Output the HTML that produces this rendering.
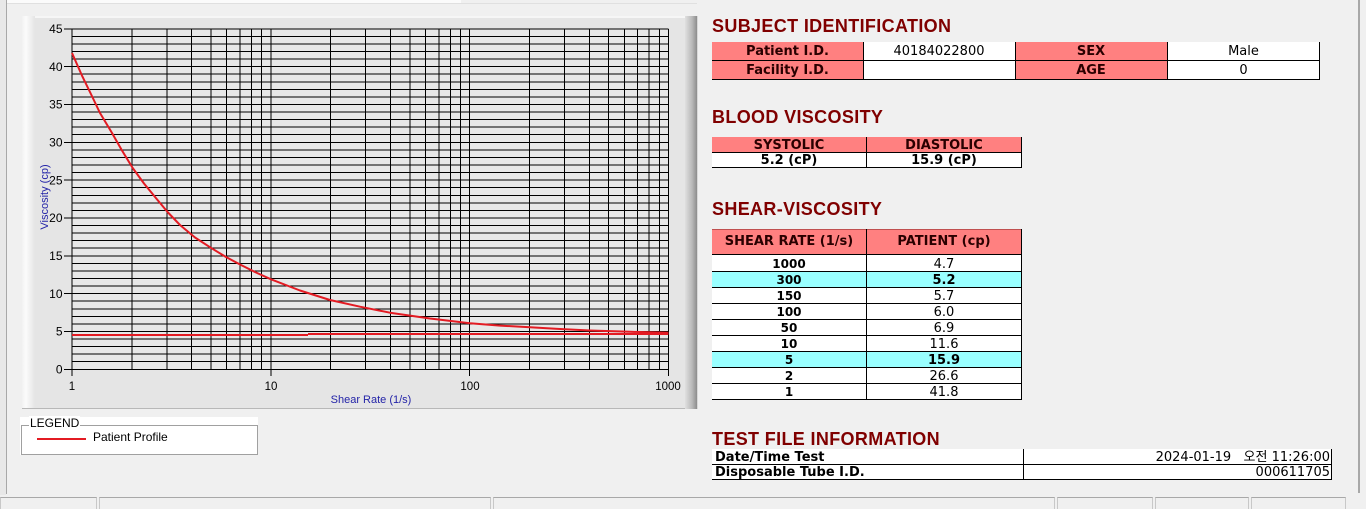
<!DOCTYPE html>
<html>
<head>
<meta charset="utf-8">
<style>
html,body{margin:0;padding:0;}
body{width:1366px;height:508px;background:#f0f0f0;position:relative;overflow:hidden;font-family:"Liberation Sans",Arial,sans-serif;}
.abs{position:absolute;}
.title{position:absolute;left:712px;font-family:"Liberation Sans",Arial,sans-serif;font-weight:bold;font-size:18px;line-height:18px;color:#800000;white-space:nowrap;letter-spacing:0.35px;}
.c{position:absolute;box-sizing:border-box;text-align:center;font-family:"DejaVu Sans","Liberation Sans",sans-serif;white-space:nowrap;overflow:hidden;}
.pk{background:#ff8080;color:#2a0000;font-weight:bold;}
.wh{background:#ffffff;color:#000;}
.cy{background:#99ffff;color:#000;}
.hl{position:absolute;height:1px;background:#000;}
.vl{position:absolute;width:1px;background:#000;}
.sb{position:absolute;top:497px;height:12px;box-sizing:border-box;border-top:1px solid #a8a8a8;border-left:1px solid #c8c8c8;border-right:1px solid #c8c8c8;background:#f0f0f0;}
</style>
</head>
<body>

<!-- window frame bits -->
<div class="abs" style="left:0;top:0;width:6px;height:495px;background:#e8e8e8;"></div>
<div class="abs" style="left:6px;top:0;width:1px;height:494px;background:#a8a8a8;"></div>
<div class="abs" style="left:7px;top:0;width:454px;height:3px;background:#fbfbfb;"></div>
<div class="abs" style="left:7px;top:3px;width:690px;height:1px;background:#e0e0e0;"></div>
<div class="abs" style="left:1358px;top:0;width:2px;height:493px;background:#a8a8a8;"></div>

<!-- chart panel -->
<div class="abs" style="left:22px;top:16px;width:676px;height:392px;background:#e5e5e5;border-bottom:1px solid #b8b8b8;"></div>
<div class="abs" style="left:22px;top:16px;width:676px;height:2px;background:#f6f6f6;"></div>
<div class="abs" style="left:22px;top:16px;width:13px;height:392px;background:linear-gradient(to right,#f2f2f2,#fbfbfb 30%,#e5e5e5);"></div>
<div class="abs" style="left:685px;top:16px;width:12px;height:393px;background:linear-gradient(to right,#e0e0e0,#b8b8b8 60%,#8c8c8c);"></div>
<div class="abs" style="left:697px;top:16px;width:1px;height:393px;background:#d8d8d8;"></div>

<svg class="abs" style="left:0;top:0;" width="700" height="420" viewBox="0 0 700 420" xmlns="http://www.w3.org/2000/svg">
  <rect x="72" y="28.8" width="596.4" height="340.5" fill="#e8e8e8"/>
  <path shape-rendering="crispEdges" stroke="#000" stroke-width="1" fill="none" d="
M72 369.3H668.4M72 361.7H668.4M72 354.2H668.4M72 346.6H668.4M72 339.0H668.4M72 331.5H668.4M72 323.9H668.4M72 316.3H668.4M72 308.8H668.4M72 301.2H668.4
M72 293.6H668.4M72 286.1H668.4M72 278.5H668.4M72 270.9H668.4M72 263.4H668.4M72 255.8H668.4M72 248.2H668.4M72 240.7H668.4M72 233.1H668.4M72 225.5H668.4
M72 218.0H668.4M72 210.4H668.4M72 202.8H668.4M72 195.3H668.4M72 187.7H668.4M72 180.1H668.4M72 172.6H668.4M72 165.0H668.4M72 157.4H668.4M72 149.9H668.4
M72 142.3H668.4M72 134.7H668.4M72 127.2H668.4M72 119.6H668.4M72 112.0H668.4M72 104.5H668.4M72 96.9H668.4M72 89.3H668.4M72 81.8H668.4M72 74.2H668.4
M72 66.6H668.4M72 59.1H668.4M72 51.5H668.4M72 43.9H668.4M72 36.4H668.4M72 28.8H668.4
M72 28.8V369.3M131.8 28.8V369.3M166.9 28.8V369.3M191.7 28.8V369.3M211.0 28.8V369.3M226.7 28.8V369.3M240.0 28.8V369.3M251.5 28.8V369.3M261.7 28.8V369.3
M270.8 28.8V369.3M330.6 28.8V369.3M365.6 28.8V369.3M390.5 28.8V369.3M409.8 28.8V369.3M425.5 28.8V369.3M438.8 28.8V369.3M450.3 28.8V369.3M460.5 28.8V369.3
M469.6 28.8V369.3M529.4 28.8V369.3M564.5 28.8V369.3M589.3 28.8V369.3M608.6 28.8V369.3M624.3 28.8V369.3M637.6 28.8V369.3M649.1 28.8V369.3M659.3 28.8V369.3
M668.4 28.8V369.3
M64 369.3H72M64 331.5H72M64 293.6H72M64 255.8H72M64 218.0H72M64 180.1H72M64 142.3H72M64 104.5H72M64 66.6H72M64 28.8H72
M72 369.3V376M270.8 369.3V376M469.6 369.3V376M668.4 369.3V376
"/>
  <g font-family="Liberation Sans, Arial, sans-serif" font-size="12" fill="#000" text-anchor="end">
    <text x="62.5" y="373.5">0</text>
    <text x="62.5" y="335.7">5</text>
    <text x="62.5" y="297.8">10</text>
    <text x="62.5" y="260.0">15</text>
    <text x="62.5" y="222.2">20</text>
    <text x="62.5" y="184.3">25</text>
    <text x="62.5" y="146.5">30</text>
    <text x="62.5" y="108.7">35</text>
    <text x="62.5" y="70.8">40</text>
    <text x="62.5" y="33.0">45</text>
  </g>
  <g font-family="Liberation Sans, Arial, sans-serif" font-size="11.5" fill="#000" text-anchor="middle">
    <text x="72" y="390">1</text>
    <text x="271" y="390">10</text>
    <text x="470" y="390">100</text>
    <text x="668" y="390">1000</text>
  </g>
  <text x="371" y="403" font-family="Liberation Sans, Arial, sans-serif" font-size="11" fill="#2424a8" text-anchor="middle">Shear Rate (1/s)</text>
  <text transform="translate(48,197) rotate(-90)" x="0" y="0" font-family="Liberation Sans, Arial, sans-serif" font-size="11" fill="#2424a8" text-anchor="middle">Viscosity (cp)</text>

  <!-- flat line -->
  <path d="M72 335H308" stroke="#e31b23" stroke-width="2" fill="none"/>
  <path d="M308 334H668.4" stroke="#e31b23" stroke-width="2" fill="none"/>
  <!-- curve -->
  <polyline fill="none" stroke="#e31b23" stroke-width="2" stroke-linejoin="round" points="72,53 81.9,75.4 91.9,96 100,113 111.8,132.6 122,150.5 132.7,168 144,183.5 156.7,199 168,212.5 180,225 195,237.5 211.7,248.3 226,257 241,265 256,272.5 271,279.3 300,290.5 330,300 360,306.7 390,312.7 430,318.5 470,323.3 500,325.6 530,327.3 560,329 590,330.5 630,331.8 668.4,332.7"/>
</svg>

<!-- legend -->
<div class="abs" style="left:20px;top:417px;width:238px;height:38px;background:#ffffff;"></div>
<div class="abs" style="left:21px;top:425px;width:235px;height:28px;border:1px solid #a0a0a0;"></div>
<div class="abs" style="left:29px;top:416px;padding:0 1px;background:#ffffff;font-size:12px;line-height:14px;color:#000;">LEGEND</div>
<div class="abs" style="left:37px;top:438px;width:49px;height:2px;background:#e31b23;"></div>
<div class="abs" style="left:93px;top:430px;font-size:12px;line-height:14px;color:#000;">Patient Profile</div>

<!-- SUBJECT IDENTIFICATION -->
<div class="title" style="top:16.5px;">SUBJECT IDENTIFICATION</div>
<div class="c pk" style="left:712px;top:42px;width:151px;height:19px;font-size:13px;line-height:19px;">Patient I.D.</div>
<div class="c wh" style="left:863px;top:42px;width:152px;height:19px;font-size:13px;line-height:19px;">40184022800</div>
<div class="c pk" style="left:1015px;top:42px;width:152px;height:19px;font-size:13px;line-height:19px;">SEX</div>
<div class="c wh" style="left:1167px;top:42px;width:153px;height:19px;font-size:13px;line-height:19px;">Male</div>
<div class="c pk" style="left:712px;top:61px;width:151px;height:19px;font-size:13px;line-height:19px;">Facility I.D.</div>
<div class="c wh" style="left:863px;top:61px;width:152px;height:19px;font-size:13px;line-height:19px;"></div>
<div class="c pk" style="left:1015px;top:61px;width:152px;height:19px;font-size:13px;line-height:19px;">AGE</div>
<div class="c wh" style="left:1167px;top:61px;width:153px;height:19px;font-size:13px;line-height:19px;">0</div>
<div class="hl" style="left:712px;top:60px;width:608px;"></div>
<div class="hl" style="left:712px;top:79px;width:608px;"></div>
<div class="vl" style="left:863px;top:42px;height:38px;"></div>
<div class="vl" style="left:1015px;top:42px;height:38px;"></div>
<div class="vl" style="left:1167px;top:42px;height:38px;"></div>
<div class="vl" style="left:1319px;top:42px;height:38px;"></div>

<!-- BLOOD VISCOSITY -->
<div class="title" style="top:108px;">BLOOD VISCOSITY</div>
<div class="c pk" style="left:712px;top:137px;width:154px;height:16px;font-size:13px;line-height:18px;">SYSTOLIC</div>
<div class="c pk" style="left:866px;top:137px;width:156px;height:16px;font-size:13px;line-height:18px;">DIASTOLIC</div>
<div class="c wh" style="left:712px;top:153px;width:154px;height:15px;font-size:13px;line-height:15px;font-weight:bold;">5.2 (cP)</div>
<div class="c wh" style="left:866px;top:153px;width:156px;height:15px;font-size:13px;line-height:15px;font-weight:bold;">15.9 (cP)</div>
<div class="hl" style="left:712px;top:152px;width:310px;"></div>
<div class="hl" style="left:712px;top:167px;width:310px;"></div>
<div class="vl" style="left:866px;top:137px;height:31px;"></div>
<div class="vl" style="left:1021px;top:137px;height:31px;"></div>

<!-- SHEAR-VISCOSITY -->
<div class="title" style="top:200px;">SHEAR-VISCOSITY</div>
<div class="c pk" style="left:712px;top:229px;width:154px;height:26px;font-size:13px;line-height:26px;">SHEAR RATE (1/s)</div>
<div class="c pk" style="left:866px;top:229px;width:156px;height:26px;font-size:13px;line-height:26px;">PATIENT (cp)</div>
<div class="hl" style="left:712px;top:229px;width:310px;background:#c05050;"></div>

<div class="c wh" style="left:712px;top:255px;width:154px;height:16px;font-size:12px;line-height:19px;font-weight:bold;">1000</div>
<div class="c wh" style="left:866px;top:255px;width:156px;height:16px;font-size:13px;line-height:19px;">4.7</div>
<div class="c cy" style="left:712px;top:271px;width:154px;height:16px;font-size:12px;line-height:19px;font-weight:bold;">300</div>
<div class="c cy" style="left:866px;top:271px;width:156px;height:16px;font-size:13px;line-height:19px;font-weight:bold;">5.2</div>
<div class="c wh" style="left:712px;top:287px;width:154px;height:16px;font-size:12px;line-height:19px;font-weight:bold;">150</div>
<div class="c wh" style="left:866px;top:287px;width:156px;height:16px;font-size:13px;line-height:19px;">5.7</div>
<div class="c wh" style="left:712px;top:303px;width:154px;height:16px;font-size:12px;line-height:19px;font-weight:bold;">100</div>
<div class="c wh" style="left:866px;top:303px;width:156px;height:16px;font-size:13px;line-height:19px;">6.0</div>
<div class="c wh" style="left:712px;top:319px;width:154px;height:16px;font-size:12px;line-height:19px;font-weight:bold;">50</div>
<div class="c wh" style="left:866px;top:319px;width:156px;height:16px;font-size:13px;line-height:19px;">6.9</div>
<div class="c wh" style="left:712px;top:335px;width:154px;height:16px;font-size:12px;line-height:19px;font-weight:bold;">10</div>
<div class="c wh" style="left:866px;top:335px;width:156px;height:16px;font-size:13px;line-height:19px;">11.6</div>
<div class="c cy" style="left:712px;top:351px;width:154px;height:16px;font-size:12px;line-height:19px;font-weight:bold;">5</div>
<div class="c cy" style="left:866px;top:351px;width:156px;height:16px;font-size:13px;line-height:19px;font-weight:bold;">15.9</div>
<div class="c wh" style="left:712px;top:367px;width:154px;height:16px;font-size:12px;line-height:19px;font-weight:bold;">2</div>
<div class="c wh" style="left:866px;top:367px;width:156px;height:16px;font-size:13px;line-height:19px;">26.6</div>
<div class="c wh" style="left:712px;top:383px;width:154px;height:16px;font-size:12px;line-height:19px;font-weight:bold;">1</div>
<div class="c wh" style="left:866px;top:383px;width:156px;height:16px;font-size:13px;line-height:19px;">41.8</div>

<div class="hl" style="left:712px;top:254px;width:310px;"></div>
<div class="hl" style="left:712px;top:271px;width:310px;"></div>
<div class="hl" style="left:712px;top:287px;width:310px;"></div>
<div class="hl" style="left:712px;top:303px;width:310px;"></div>
<div class="hl" style="left:712px;top:319px;width:310px;"></div>
<div class="hl" style="left:712px;top:335px;width:310px;"></div>
<div class="hl" style="left:712px;top:351px;width:310px;"></div>
<div class="hl" style="left:712px;top:367px;width:310px;"></div>
<div class="hl" style="left:712px;top:383px;width:310px;"></div>
<div class="hl" style="left:712px;top:399px;width:310px;"></div>
<div class="vl" style="left:866px;top:229px;height:171px;"></div>
<div class="vl" style="left:1021px;top:229px;height:171px;"></div>

<!-- TEST FILE INFORMATION -->
<div class="title" style="top:430px;">TEST FILE INFORMATION</div>
<div class="c wh" style="left:712px;top:449px;width:311px;height:16px;font-size:13px;line-height:17px;font-weight:bold;text-align:left;padding-left:3px;">Date/Time Test</div>
<div class="c wh" style="left:1023px;top:449px;width:309px;height:16px;font-size:13px;line-height:17px;text-align:right;padding-right:2px;font-family:'DejaVu Sans','Noto Sans CJK KR',sans-serif;">2024-01-19&nbsp;&nbsp;&nbsp;오전 11:26:00</div>
<div class="c wh" style="left:712px;top:465px;width:311px;height:15px;font-size:13px;line-height:15px;font-weight:bold;text-align:left;padding-left:3px;">Disposable Tube I.D.</div>
<div class="c wh" style="left:1023px;top:465px;width:309px;height:15px;font-size:13px;line-height:15px;text-align:right;padding-right:2px;">000611705</div>
<div class="hl" style="left:712px;top:464px;width:620px;"></div>
<div class="hl" style="left:712px;top:479px;width:620px;"></div>
<div class="vl" style="left:1023px;top:449px;height:31px;"></div>
<div class="vl" style="left:1331px;top:449px;height:31px;"></div>

<!-- status bar -->
<div class="sb" style="left:0;width:97px;"></div>
<div class="sb" style="left:99px;width:392px;"></div>
<div class="sb" style="left:493px;width:562px;"></div>
<div class="sb" style="left:1057px;width:96px;"></div>
<div class="sb" style="left:1155px;width:94px;"></div>
<div class="sb" style="left:1251px;width:95px;"></div>

</body>
</html>
